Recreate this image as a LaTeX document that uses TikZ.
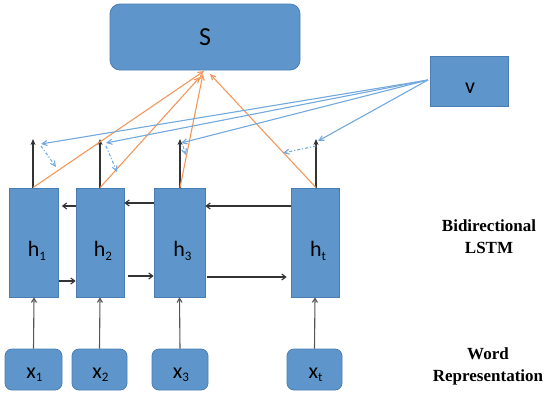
\documentclass[tikz,border=0pt]{standalone}
\usepackage{fontspec}
\setmainfont{Carlito}
\newfontfamily\lblfont{Liberation Serif}
\usetikzlibrary{arrows.meta,calc}
\definecolor{boxblue}{HTML}{5E96CB}
\definecolor{boxedge}{HTML}{4A7EB3}
\definecolor{lineblue}{HTML}{73A9DD}
\definecolor{lineorange}{HTML}{F3975B}
\definecolor{darkarr}{HTML}{333333}
\definecolor{grayarr}{HTML}{555555}
\newcommand{\sbs}[1]{\raisebox{-3.5pt}{\fontsize{13}{13}\selectfont #1}}
\begin{document}
\begin{tikzpicture}[x=1pt,y=-1pt,
 bbox/.style={draw=boxedge,fill=boxblue,line width=0.8pt,inner sep=0pt},
 hbox/.style={bbox,minimum width=49pt,minimum height=109pt},
 xbox/.style={bbox,rounded corners=7pt,minimum width=55pt,minimum height=41pt},
 lab/.style={anchor=base,inner sep=0pt,font=\fontsize{22}{24}\selectfont},
 uparr/.style={draw=darkarr,line width=1.8pt,-{Stealth[length=6pt,width=5pt]}},
 inarr/.style={draw=grayarr,line width=1.1pt,-{Straight Barb[length=4pt,width=5pt]}},
 rarr/.style={draw=darkarr,line width=1.1pt,-{Straight Barb[length=4pt,width=6pt]}},
 oarr/.style={draw=lineorange,line width=1.1pt,-{Straight Barb[length=5pt,width=5pt]}},
 barr/.style={draw=lineblue,line width=1.1pt,-{Straight Barb[length=5pt,width=5pt]}},
 darr/.style={barr,dash dot},
 side/.style={font=\lblfont\bfseries\fontsize{17}{22}\selectfont,align=center,inner sep=0pt}]
\useasboundingbox (0,0) rectangle (544,392);

% boxes
\node[bbox,rounded corners=10pt,minimum width=190pt,minimum height=66pt] (S) at (205,37) {};
\node[bbox,minimum width=78pt,minimum height=50pt] (v) at (469,81) {};
\node[hbox] (h1) at (34,242.5) {};
\node[hbox,minimum width=48pt] (h2) at (100,242.5) {};
\node[hbox,minimum width=51pt] (h3) at (179.5,242.5) {};
\node[hbox,minimum width=48pt] (ht) at (315,242.5) {};
\node[xbox,minimum width=57pt] (x1) at (33.5,369.5) {};
\node[xbox] (x2) at (99.5,369.5) {};
\node[xbox,minimum width=56pt] (x3) at (180,369.5) {};
\node[xbox] (xt) at (314.5,369.5) {};

% labels
\node[lab,font=\fontsize{26}{28}\selectfont] (St) at ($(S.center)+(0,8)$) {S};
\node[lab] (vt) at ($(v.center)+(1,12)$) {v};
\node[lab] (h1t) at ($(h1.center)+(3,14)$) {h\sbs{1}};
\node[lab] (h2t) at ($(h2.center)+(3,14)$) {h\sbs{2}};
\node[lab] (h3t) at ($(h3.center)+(3,14)$) {h\sbs{3}};
\node[lab] (htt) at ($(ht.center)+(3,14)$) {h\sbs{t}};
\node[lab] (x1t) at ($(x1.center)+(1,8.5)$) {x\sbs{1}};
\node[lab] (x2t) at ($(x2.center)+(1,8.5)$) {x\sbs{2}};
\node[lab] (x3t) at ($(x3.center)+(1,8.5)$) {x\sbs{3}};
\node[lab] (xtt) at ($(xt.center)+(1,8.5)$) {x\sbs{t}};
\node[side] (bl) at (489,237) {Bidirectional\\LSTM};
\node[side] (wr) at (488,366) {Word\\Representation};

% input arrows
\draw[inarr] (x1.north) -- (h1.south);
\draw[inarr] (x2.north) -- (h2.south);
\draw[inarr] (x3.north) -- (h3.south);
\draw[inarr] (xt.north) -- (ht.south);

% output arrows
\coordinate (a1) at (33,139);
\coordinate (a2) at (100,139);
\coordinate (a3) at (180,139);
\coordinate (at) at (316,139);
\draw[uparr] (h1.north -| a1) -- (a1);
\draw[uparr] (h2.north -| a2) -- (a2);
\draw[uparr] (h3.north -| a3) -- (a3);
\draw[uparr] (ht.north -| at) -- (at);

% recurrent arrows
\draw[rarr] ([yshift=36.5pt]ht.west) -- ([yshift=36.5pt]h3.east);
\draw[rarr] ([yshift=39.5pt]h3.west) -- ([yshift=39.5pt]h2.east);
\draw[rarr,shorten >=3pt] ([yshift=36.5pt]h2.west) -- ([yshift=36.5pt]h1.east);
\draw[rarr] ([yshift=-38.5pt]h1.east) -- ([yshift=-38.5pt]h2.west);
\draw[rarr,shorten <=4pt] ([yshift=-33.5pt]h2.east) -- ([yshift=-33.5pt]h3.west);
\draw[rarr,shorten <=2pt,shorten >=4pt] ([yshift=-34.5pt]h3.east) -- ([yshift=-34.5pt]ht.west);

% attention to S
\coordinate (o1) at (204,71);
\coordinate (o2) at (200,77);
\coordinate (o3) at (203,74);
\coordinate (o4) at (210,74);
\draw[oarr] (h1.north -| a1) -- (o1);
\draw[oarr] (h2.north -| a2) -- (o2);
\draw[oarr] (h3.north -| a3) -- (o3);
\draw[oarr] (ht.north -| at) -- (o4);

% context vector lines
\coordinate (vL) at (428,80);
\coordinate (t1) at (41,144);
\coordinate (t2) at (106,143);
\coordinate (t3) at (181,143);
\coordinate (t4) at (318,141);
\draw[barr] (vL) -- (t1);
\draw[barr] (vL) -- (t2);
\draw[barr] (vL) -- (t3);
\draw[barr] (vL) -- (t4);
\coordinate (d1s) at (41,146);
\coordinate (d1e) at (56,167);
\coordinate (d2s) at (106,146);
\coordinate (d2e) at (117,172);
\coordinate (d3s) at (183,146);
\coordinate (d3e) at (186,155);
\coordinate (d4s) at (316,146);
\coordinate (d4e) at (283,153);
\draw[darr] (d1s) -- (d1e);
\draw[darr] (d2s) -- (d2e);
\draw[darr] (d3s) -- (d3e);
\draw[darr] (d4s) -- (d4e);
\end{tikzpicture}
\end{document}
